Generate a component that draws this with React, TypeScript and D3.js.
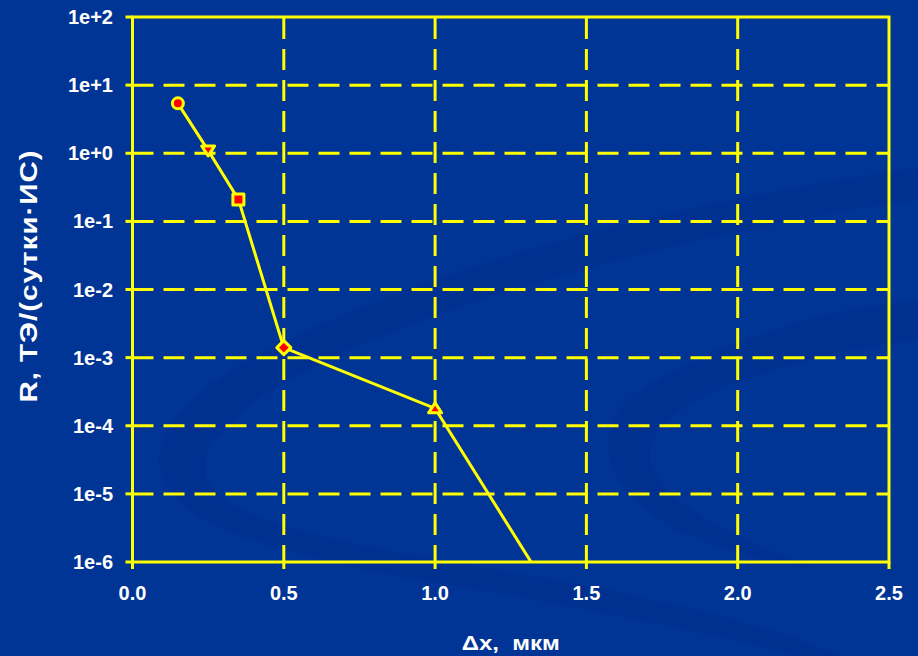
import React from "react";
import * as d3 from "d3";

// Series: displacement Δx (мкм) vs. rate R
const dxValues = [0.15, 0.25, 0.35, 0.5, 1.0, 1.5];
const rValues = [5.4, 1.1, 0.21, 1.4e-3, 1.8e-4, 5e-8];
const markerKinds = ["circle", "triangleDown", "square", "diamond", "triangleUp", "none"];

const xTicks = [0, 0.5, 1.0, 1.5, 2.0, 2.5];
const yTicks = [1e2, 1e1, 1e0, 1e-1, 1e-2, 1e-3, 1e-4, 1e-5, 1e-6];
const yTickLabels = ["1e+2", "1e+1", "1e+0", "1e-1", "1e-2", "1e-3", "1e-4", "1e-5", "1e-6"];

const W = 918;
const H = 656;
const plot = { left: 132.5, right: 889, top: 17, bottom: 562 };

const YELLOW = "#ffff00";
const RED = "#ff0000";
const BG = "#003495";
const FONT = "'Liberation Sans', Arial, sans-serif";

// marker outlines, centred on the data point
const markerPath = (kind: string) => {
  switch (kind) {
    case "circle":
      return d3.symbol().type(d3.symbolCircle).size(Math.PI * 5.5 * 5.5)()!;
    case "square":
      return "M-5.5,-5.5H5.5V5.5H-5.5Z";
    case "diamond":
      return "M0,-7L7,0L0,7L-7,0Z";
    case "triangleUp":
      return "M0,-5.5L6.5,4.5L-6.5,4.5Z";
    case "triangleDown":
      return "M0,5.5L6.5,-4.5L-6.5,-4.5Z";
    default:
      return "";
  }
};

export default function App() {
  const x = d3.scaleLinear().domain([0, 2.5]).range([plot.left, plot.right]);
  const y = d3.scaleLog().domain([1e-6, 1e2]).range([plot.bottom, plot.top]);

  const pts = dxValues.map((d, i) => ({ dx: d, r: rValues[i], kind: markerKinds[i] }));
  const line = d3
    .line<{ dx: number; r: number }>()
    .x((d) => x(d.dx))
    .y((d) => y(d.r));

  return (
    <svg
      width={W}
      height={H}
      style={{ position: "absolute", left: 0, top: 0, display: "block" }}
    >
      <defs>
        <clipPath id="plotClip">
          <rect
            x={plot.left}
            y={plot.top}
            width={plot.right - plot.left}
            height={plot.bottom - plot.top}
          />
        </clipPath>
      </defs>

      {/* slide background with soft swirl decorations */}
      <rect x={0} y={0} width={W} height={H} fill={BG} />
      <path
        d="M918,168 C760,190 560,230 380,300 C230,360 150,410 160,470 C170,530 300,560 480,590 C620,615 740,640 800,656 L840,656 C760,620 620,590 470,565 C290,535 200,510 205,465 C210,410 330,350 480,300 C640,250 800,215 918,200 Z"
        fill="#002c86"
        opacity={0.35}
      />
      <path
        d="M918,300 C820,310 720,340 640,390 C590,425 600,480 660,520 C700,545 760,560 820,570 C740,540 660,505 650,460 C640,410 760,360 918,340 Z"
        fill="#002c86"
        opacity={0.3}
      />

      {/* horizontal grid */}
      {yTicks.map((t, i) =>
        i === 0 || i === yTicks.length - 1 ? null : (
          <line
            key={"hg" + i}
            x1={plot.left}
            x2={plot.right}
            y1={y(t)}
            y2={y(t)}
            stroke={YELLOW}
            strokeWidth={3}
            strokeDasharray="21 10"
          />
        )
      )}
      {/* vertical grid */}
      {xTicks.map((t, i) =>
        i === 0 || i === xTicks.length - 1 ? null : (
          <line
            key={"vg" + i}
            x1={x(t)}
            x2={x(t)}
            y1={plot.top + 1}
            y2={plot.bottom}
            stroke={YELLOW}
            strokeWidth={3}
            strokeDasharray="21 10"
          />
        )
      )}

      {/* plot frame */}
      <rect
        x={plot.left}
        y={plot.top}
        width={plot.right - plot.left}
        height={plot.bottom - plot.top}
        fill="none"
        stroke={YELLOW}
        strokeWidth={3}
      />

      {/* tick marks */}
      {yTicks.map((t, i) => (
        <line
          key={"yt" + i}
          x1={plot.left - 7}
          x2={plot.left}
          y1={y(t)}
          y2={y(t)}
          stroke={YELLOW}
          strokeWidth={3}
        />
      ))}
      {xTicks.map((t, i) => (
        <line
          key={"xt" + i}
          x1={x(t)}
          x2={x(t)}
          y1={plot.bottom}
          y2={plot.bottom + 7}
          stroke={YELLOW}
          strokeWidth={3}
        />
      ))}

      {/* tick labels */}
      {yTicks.map((t, i) => (
        <text
          key={"yl" + i}
          x={113}
          y={y(t)}
          dy="0.35em"
          textAnchor="end"
          fill="#ffffff"
          fontFamily={FONT}
          fontWeight="bold"
          fontSize={20}
        >
          {yTickLabels[i]}
        </text>
      ))}
      {xTicks.map((t, i) => (
        <text
          key={"xl" + i}
          x={x(t)}
          y={600}
          textAnchor="middle"
          fill="#ffffff"
          fontFamily={FONT}
          fontWeight="bold"
          fontSize={20}
        >
          {d3.format(".1f")(t)}
        </text>
      ))}

      {/* axis titles */}
      <text
        transform={`translate(${(plot.left + plot.right) / 2}, 650) scale(1.2, 1)`}
        textAnchor="middle"
        fill="#ffffff"
        fontFamily={FONT}
        fontWeight="bold"
        fontSize={20}
        style={{ whiteSpace: "pre" }}
      >
        {"Δx,  мкм"}
      </text>
      <text
        transform={`translate(37, 276) rotate(-90) scale(1.28, 1)`}
        textAnchor="middle"
        fill="#ffffff"
        fontFamily={FONT}
        fontWeight="bold"
        fontSize={23}
        letterSpacing={0.8}
      >
        R, ТЭ/(сутки·ИС)
      </text>

      {/* data line */}
      <path
        d={line(pts) || ""}
        fill="none"
        stroke={YELLOW}
        strokeWidth={3}
        clipPath="url(#plotClip)"
      />

      {/* markers */}
      {pts.map((p, i) =>
        p.kind === "none" ? null : (
          <path
            key={"m" + i}
            d={markerPath(p.kind)}
            transform={`translate(${x(p.dx)},${y(p.r)})`}
            fill={RED}
            stroke={YELLOW}
            strokeWidth={3}
            strokeLinejoin="round"
          />
        )
      )}
    </svg>
  );
}
